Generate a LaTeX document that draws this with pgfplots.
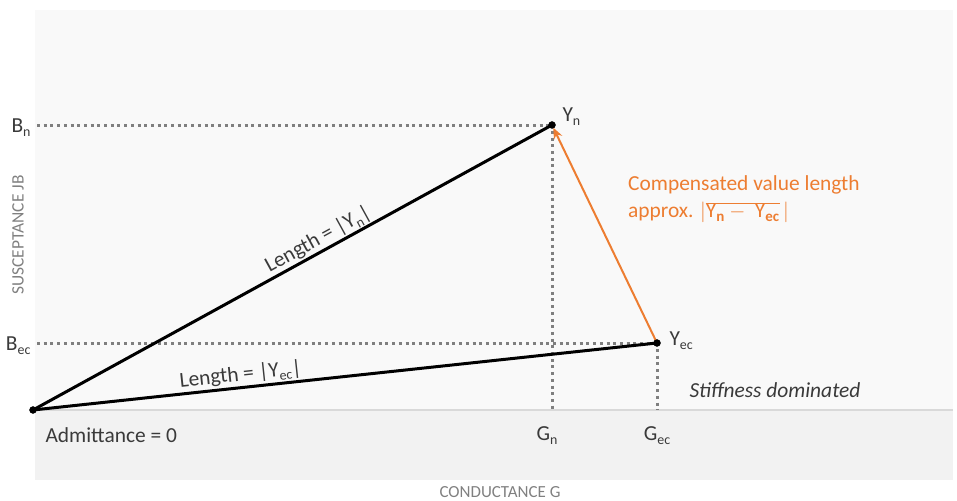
\documentclass[border=0pt]{standalone}
\usepackage{pgfplots}
\pgfplotsset{compat=1.18}
\usepackage{fontspec}
\setmainfont{Carlito}
\usetikzlibrary{arrows.meta}
\definecolor{bgup}{HTML}{F9F9F9}
\definecolor{bglow}{HTML}{F2F2F2}
\definecolor{axline}{HTML}{D9D9D9}
\definecolor{dotc}{HTML}{7F7F7F}
\definecolor{txt}{HTML}{3A3A3A}
\definecolor{ttl}{HTML}{808080}
\definecolor{orng}{HTML}{ED7D31}
\newcommand\lbl{\fontsize{21.5}{26}\selectfont}
\newcommand\sub[1]{\raisebox{-0.4ex}{\fontsize{14}{14}\selectfont #1}}
\begin{document}
\begin{tikzpicture}
\begin{axis}[
  scale only axis, width=957bp, height=501bp,
  xmin=0, xmax=957, ymin=0, ymax=501,
  axis lines=none, clip=false,
]
\path[use as bounding box] (axis cs:0,0) rectangle (axis cs:957,501);
% background
\addplot[fill=bgup, draw=none] coordinates {(35,91) (953,91) (953,491) (35,491)} -- cycle;
\addplot[fill=bglow, draw=none] coordinates {(35,21) (953,21) (953,91) (35,91)} -- cycle;
\addplot[axline, line width=1.2bp] coordinates {(35,91) (953,91)};
% dotted guides
\addplot[dotc, line width=3bp, dash pattern=on 3bp off 3.7bp] coordinates {(37,375) (552,375)};
\addplot[dotc, line width=3bp, dash pattern=on 3bp off 3.7bp] coordinates {(37,157) (657,157)};
\addplot[dotc, line width=3bp, dash pattern=on 3bp off 3.7bp] coordinates {(552,370) (552,91)};
\addplot[dotc, line width=3bp, dash pattern=on 3bp off 3.7bp] coordinates {(657,152) (657,91)};
% vectors
\addplot[black, line width=3bp] coordinates {(33,91) (552,376)};
\addplot[black, line width=3bp] coordinates {(33,91) (657,158)};
\addplot[orng, line width=2bp, -{Stealth[length=11bp,width=9bp]}, shorten >=3bp] coordinates {(657,158) (552,376)};
\addplot[only marks, mark=*, mark size=3.5bp, black] coordinates {(33,91) (552,376) (657,158)};
% labels
\node[txt, font=\lbl, anchor=east] at (axis cs:34,373) {B\sub{n}};
\node[txt, font=\lbl, anchor=east] at (axis cs:34,155) {B\sub{ec}};
\node[txt, font=\lbl, anchor=west] at (axis cs:559,384) {Y\sub{n}};
\node[txt, font=\lbl, anchor=west] at (axis cs:666,160) {Y\sub{ec}};
\node[txt, font=\lbl] at (axis cs:547,65) {G\sub{n}};
\node[txt, font=\lbl] at (axis cs:657,65) {G\sub{ec}};
\node[txt, font=\lbl, anchor=west] at (axis cs:42,66) {Admittance = 0};
\node[txt, font=\lbl\itshape] at (axis cs:775,111) {Stiffness dominated};
\node[orng, font=\fontsize{21.5}{28}\selectfont, anchor=north west, align=left, inner sep=0pt] at (axis cs:628,326)
  {Compensated value length\\ approx. $|\overline{\mathrm{Y}_{\mathbf{n}} -\ \mathrm{Y}_{\mathbf{ec}}}\,|$};
\node[txt, font=\lbl, rotate=28.8, anchor=south, inner sep=2bp] at (axis cs:324,251) {Length = |Y\sub{n}|};
\node[txt, font=\lbl, rotate=6.1, anchor=south, inner sep=2bp] at (axis cs:242,114) {Length = |Y\sub{ec}|};
\node[ttl, font=\fontsize{17.5}{19}\selectfont, rotate=90] at (axis cs:18,266) {SUSCEPTANCE JB};
\node[ttl, font=\fontsize{17}{19}\selectfont] at (axis cs:500,9) {CONDUCTANCE G};
\end{axis}
\end{tikzpicture}
\end{document}
